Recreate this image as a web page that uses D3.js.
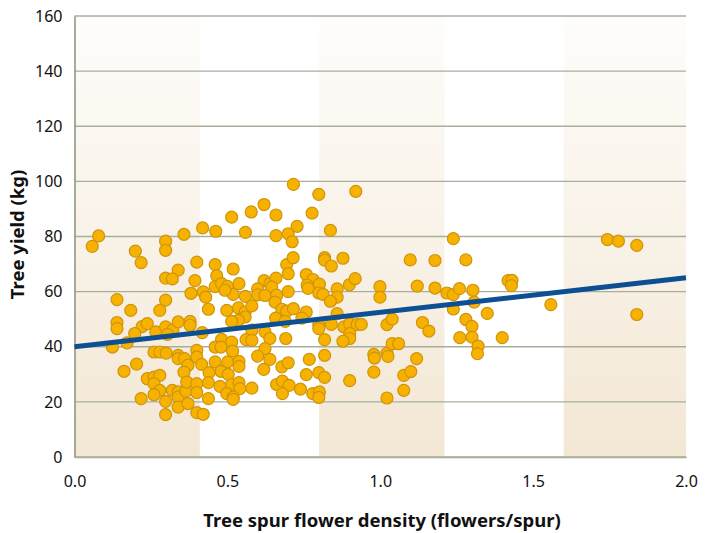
<!DOCTYPE html>
<html>
<head>
<meta charset="utf-8">
<script src="https://cdn.jsdelivr.net/npm/d3@7"></script>
<style>
  body { margin: 0; background: #fff; }
  svg text { font-family: "Noto Sans", "Open Sans", sans-serif; fill: #111; }
</style>
</head>
<body>
<svg id="chart"></svg>
<script>
// flower density (flowers/spur) for each tree
const density = [
  0.058, 0.079, 0.199, 0.218, 0.298, 0.298, 0.358, 0.339, 0.298, 0.320,
  0.139, 0.298, 0.381, 0.184, 0.279, 0.139, 0.139, 0.221, 0.238, 0.197,
  0.266, 0.298, 0.322, 0.339, 0.304, 0.124, 0.172, 0.260, 0.279, 0.300,
  0.339, 0.339, 0.360, 0.371, 0.358, 0.203, 0.162, 0.238, 0.260, 0.279,
  0.260, 0.279, 0.260, 0.320, 0.339, 0.339, 0.364, 0.218, 0.298, 0.339,
  0.371, 0.298,
  0.716, 0.620, 0.578, 0.514, 0.659, 0.419, 0.462, 0.559, 0.659, 0.699,
  0.712, 0.728, 0.400, 0.460, 0.519, 0.694, 0.715, 0.699, 0.394, 0.465,
  0.460, 0.481, 0.500, 0.538, 0.620, 0.639, 0.659, 0.645, 0.599, 0.421,
  0.429, 0.519, 0.559, 0.599, 0.623, 0.699, 0.661, 0.492,
  0.656, 0.678, 0.694, 0.716, 0.438, 0.498, 0.536, 0.558, 0.580, 0.558,
  0.536, 0.514, 0.658, 0.689, 0.378, 0.378, 0.418, 0.580, 0.623, 0.639,
  0.691, 0.561, 0.481, 0.460, 0.479, 0.514, 0.517, 0.580, 0.623, 0.400,
  0.400, 0.416, 0.460, 0.501, 0.538, 0.538, 0.479, 0.503, 0.440, 0.599,
  0.639, 0.619, 0.678, 0.699, 0.367, 0.400, 0.400, 0.438, 0.476, 0.514,
  0.538, 0.541, 0.580, 0.498, 0.519, 0.519, 0.661, 0.680, 0.702, 0.680,
  0.438, 0.400, 0.421,
  0.799, 0.920, 0.777, 0.837, 0.818, 0.818, 0.840, 0.878, 0.758, 0.780,
  0.761, 0.764, 0.801, 0.799, 0.813, 0.859, 0.899, 0.918, 0.999, 0.999,
  0.859, 0.758, 0.744, 0.799, 0.799, 0.840, 0.859, 0.837, 0.881, 0.900,
  0.924, 0.938, 0.900, 0.900, 0.878, 0.818, 1.022, 1.039, 0.818, 0.768,
  0.758, 0.799, 0.818, 0.900, 0.979, 0.981, 0.979, 1.022, 1.039, 1.060,
  1.022, 0.739, 0.779, 0.801, 0.799, 1.077, 1.077, 1.025,
  1.239, 1.098, 1.179, 1.280, 1.121, 1.179, 1.218, 1.239, 1.259, 1.303,
  1.307, 1.418, 1.431, 1.429, 1.239, 1.280, 1.300, 1.350, 1.138, 1.159,
  1.260, 1.300, 1.399, 1.320, 1.318, 1.119, 1.100,
  1.743, 1.779, 1.839, 1.558, 1.839
];

// yield (kg) for each tree, same order
const treeYield = [
  76.4, 80.2, 74.7, 70.5, 78.3, 75.0, 80.8, 67.8, 64.9, 64.6,
  57.1, 56.9, 59.4, 53.2, 53.2, 48.8, 46.6, 47.3, 48.4, 44.8,
  45.4, 47.2, 46.2, 49.0, 44.5, 39.9, 41.4, 38.1, 38.1, 37.7,
  36.9, 35.7, 35.7, 33.3, 30.8, 33.7, 31.1, 28.4, 29.0, 29.6,
  26.6, 24.2, 22.6, 24.2, 23.6, 21.8, 23.9, 21.2, 20.2, 18.1,
  19.4, 15.4,
  98.9, 91.6, 88.9, 87.0, 87.8, 83.1, 81.9, 81.5, 80.3, 81.0,
  78.1, 83.7, 70.7, 69.8, 68.2, 69.8, 72.3, 66.5, 64.0, 65.8,
  61.8, 62.9, 61.9, 62.9, 64.0, 62.9, 64.9, 61.7, 61.0, 59.9,
  58.0, 59.0, 58.3, 58.8, 58.6, 60.0, 58.7, 60.5,
  56.2, 53.6, 52.9, 53.8, 53.6, 53.2, 54.1, 52.6, 54.8, 50.8,
  49.6, 49.2, 50.4, 49.2, 49.2, 47.8, 45.1, 46.0, 45.4, 43.0,
  43.0, 42.6, 42.7, 39.9, 39.9, 41.7, 38.4, 42.3, 39.3, 38.7,
  36.3, 33.6, 34.5, 34.5, 34.7, 32.9, 31.1, 30.0, 30.6, 36.6,
  35.4, 31.8, 32.7, 34.2, 27.2, 26.6, 23.4, 27.0, 25.6, 26.3,
  27.0, 24.8, 25.0, 23.0, 21.8, 20.9, 26.3, 27.5, 26.0, 23.0,
  21.2, 16.1, 15.5,
  95.3, 96.4, 88.5, 82.2, 72.3, 71.4, 69.3, 72.1, 66.2, 64.4,
  62.4, 61.2, 62.7, 59.5, 59.0, 61.0, 62.5, 64.7, 61.8, 58.0,
  58.0, 52.6, 50.4, 48.0, 46.6, 48.1, 52.0, 56.5, 47.2, 48.4,
  48.0, 48.1, 44.8, 43.0, 42.0, 42.6, 48.0, 50.0, 36.9, 35.4,
  29.9, 30.6, 28.9, 27.7, 37.2, 35.9, 30.8, 37.7, 41.1, 41.1,
  21.4, 24.6, 23.0, 23.6, 21.6, 29.6, 24.2, 36.5,
  79.2, 71.5, 71.3, 71.5, 62.0, 61.3, 59.5, 58.9, 61.1, 60.5,
  56.2, 64.0, 64.1, 62.2, 53.7, 49.9, 47.4, 52.1, 48.8, 45.7,
  43.3, 43.5, 43.3, 40.2, 37.5, 35.7, 31.0,
  78.9, 78.3, 76.8, 55.3, 51.7
];

// fitted trend line end points
const trendX = [0, 2];
const trendY = [40, 65];

const xTicks = [0, 0.5, 1.0, 1.5, 2.0];
const yTicks = [0, 20, 40, 60, 80, 100, 120, 140, 160];

// shaded background columns (density ranges)
const shadeBands = [[0, 0.41], [0.8, 1.21], [1.6, 2.0]];

const width = 710, height = 533;
const margin = { top: 16, right: 24, bottom: 76, left: 74.5 };

const svg = d3.select("#chart")
    .attr("width", width)
    .attr("height", height);

const x = d3.scaleLinear().domain([0, 2]).range([margin.left, width - margin.right]);
const y = d3.scaleLinear().domain([0, 160]).range([height - margin.bottom, margin.top]);

// gradient for the shaded columns
const grad = svg.append("defs").append("linearGradient")
    .attr("id", "shade")
    .attr("x1", 0).attr("y1", 1).attr("x2", 0).attr("y2", 0);
grad.append("stop").attr("offset", "0%").attr("stop-color", "#f3e7d4");
grad.append("stop").attr("offset", "100%").attr("stop-color", "#fefdfb");

svg.selectAll("rect.band")
    .data(shadeBands)
    .enter()
    .append("rect")
    .attr("class", "band")
    .attr("x", d => x(d[0]))
    .attr("width", d => x(d[1]) - x(d[0]))
    .attr("y", y(160))
    .attr("height", y(0) - y(160))
    .attr("fill", "url(#shade)");

// horizontal grid lines
svg.selectAll("line.grid")
    .data(yTicks)
    .enter()
    .append("line")
    .attr("class", "grid")
    .attr("x1", x(0))
    .attr("x2", x(2))
    .attr("y1", d => y(d))
    .attr("y2", d => y(d))
    .attr("stroke", "#a7af9c")
    .attr("stroke-width", 1.4);

// y axis
const yAxis = svg.append("g")
    .attr("transform", `translate(${x(0)},0)`)
    .call(d3.axisLeft(y).tickValues(yTicks).tickSize(0).tickPadding(12));
yAxis.select(".domain").attr("stroke", "#8f9a82").attr("stroke-width", 1.6);
yAxis.selectAll("text").style("font-size", "16px").attr("fill", "#111");

// x axis
const xAxis = svg.append("g")
    .attr("transform", `translate(0,${y(0)})`)
    .call(d3.axisBottom(x).tickValues(xTicks).tickFormat(d3.format(".1f")).tickSize(0).tickPadding(19));
xAxis.select(".domain").attr("stroke", "#a7af9c").attr("stroke-width", 1.4);
xAxis.selectAll("text").style("font-size", "16px").attr("fill", "#111");

// points
svg.selectAll("circle")
    .data(density.map((d, i) => ({ x: d, y: treeYield[i] })))
    .enter()
    .append("circle")
    .attr("cx", d => x(d.x))
    .attr("cy", d => y(d.y))
    .attr("r", 6)
    .attr("fill", "#f7b200")
    .attr("stroke", "#cf940c")
    .attr("stroke-width", 1.2);

// trend line
svg.append("line")
    .attr("x1", x(trendX[0])).attr("y1", y(trendY[0]))
    .attr("x2", x(trendX[1])).attr("y2", y(trendY[1]))
    .attr("stroke", "#0d4f93")
    .attr("stroke-width", 5);

// axis titles
svg.append("text")
    .attr("x", 382)
    .attr("y", 527)
    .attr("text-anchor", "middle")
    .style("font-size", "18.5px")
    .style("font-weight", "bold")
    .text("Tree spur flower density (flowers/spur)");

svg.append("text")
    .attr("transform", `translate(24,${y(80) - 2})rotate(-90)`)
    .attr("text-anchor", "middle")
    .style("font-size", "18.5px")
    .style("font-weight", "bold")
    .text("Tree yield (kg)");
</script>
</body>
</html>
